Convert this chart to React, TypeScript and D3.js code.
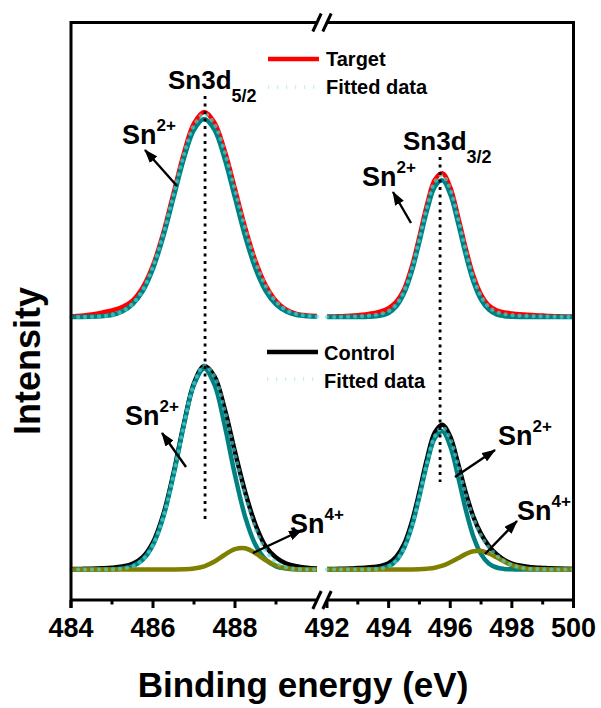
import React from 'react';
import * as d3 from 'd3';

// ---------- data (binding energy in eV, intensity in arbitrary units) ----------
const ENERGY_LEFT = [484, 484.25, 484.5, 484.75, 485, 485.25, 485.5, 485.75, 486, 486.25, 486.5, 486.75, 487, 487.25, 487.5, 487.75, 488, 488.25, 488.5, 488.75, 489, 489.25, 489.5, 489.75, 490];
const ENERGY_RIGHT = [492, 492.25, 492.5, 492.75, 493, 493.25, 493.5, 493.75, 494, 494.25, 494.5, 494.75, 495, 495.25, 495.5, 495.75, 496, 496.25, 496.5, 496.75, 497, 497.25, 497.5, 497.75, 498, 498.25, 498.5, 498.75, 499, 499.25, 499.5, 499.75, 500];

// Top panel: Target
const TARGET_LEFT = [0.3, 0.6, 1.3, 2.2, 3.3, 5.0, 8.2, 14.8, 25.8, 42.0, 61.8, 81.6, 96.8, 102.5, 97.2, 83.0, 64.0, 44.6, 28.0, 15.8, 8.0, 3.6, 1.6, 0.8, 0.5];
const TARGET_RIGHT = [0.2, 0.3, 0.4, 0.6, 0.9, 1.3, 1.9, 2.8, 4.4, 7.6, 13.8, 25.0, 40.2, 56.4, 68.6, 71.8, 64.8, 50.4, 34.4, 20.6, 11.2, 5.8, 3.4, 2.3, 1.8, 1.4, 1.1, 0.9, 0.7, 0.5, 0.4, 0.3, 0.2];
const FIT_TOP_LEFT = [0, 0, 0.1, 0.4, 1.0, 2.8, 6.6, 13.6, 25.2, 41.5, 61.2, 81.0, 95.8, 101.5, 96.4, 82.4, 63.5, 44.2, 27.6, 15.5, 7.8, 3.5, 1.5, 0.6, 0.2];
const FIT_TOP_RIGHT = [0, 0, 0.1, 0.2, 0.3, 0.5, 0.9, 1.6, 3.0, 6.3, 12.9, 24.0, 39.2, 55.4, 67.6, 70.8, 63.9, 49.6, 33.6, 19.8, 10.4, 5.0, 2.6, 1.5, 1.0, 0.7, 0.5, 0.4, 0.3, 0.2, 0.1, 0.1, 0];
const SN2_TOP_LEFT = [0, 0, 0.1, 0.4, 1.0, 2.7, 6.3, 13.0, 24.2, 40.2, 59.6, 79.0, 93.6, 99, 93.6, 79.0, 59.6, 40.2, 24.2, 13.0, 6.3, 2.7, 1.0, 0.4, 0.1];
const SN2_TOP_RIGHT = [0, 0, 0, 0, 0, 0.05, 0.2, 0.7, 2.0, 5.3, 11.8, 22.7, 37.7, 53.5, 65.2, 68.3, 61.4, 47.3, 31.4, 17.8, 8.7, 3.7, 1.3, 0.4, 0.1, 0, 0, 0, 0, 0, 0, 0, 0];

// Bottom panel: Control
const CONTROL_LEFT = [0.2, 0.3, 0.4, 0.6, 0.9, 1.5, 2.8, 6.2, 13.6, 27.4, 48.2, 72.6, 93.2, 101.8, 96.6, 80.2, 58.8, 38.6, 22.4, 11.5, 6.0, 3.0, 1.6, 0.9, 0.5];
const CONTROL_RIGHT = [0.3, 0.3, 0.4, 0.5, 0.7, 0.9, 1.2, 1.8, 3.2, 6.4, 12.6, 23.6, 38.8, 55.6, 68.6, 72.4, 66.4, 53.2, 38.6, 26.4, 17.8, 11.8, 7.6, 4.8, 3.0, 2.0, 1.4, 1.0, 0.8, 0.6, 0.5, 0.4, 0.3];
const FIT_BOTTOM_LEFT = [0, 0, 0, 0, 0.1, 0.5, 1.6, 4.9, 12.3, 26.2, 47.2, 72.0, 92.9, 102.1, 96.4, 79.3, 57.4, 36.8, 20.4, 9.5, 3.6, 1.1, 0.2, 0, 0];
const FIT_BOTTOM_RIGHT = [0, 0, 0, 0, 0, 0, 0.1, 0.5, 1.6, 4.5, 10.7, 21.4, 36.8, 53.6, 66.7, 71.0, 65.3, 52.4, 37.8, 25.6, 16.9, 11.0, 7.1, 4.3, 2.3, 1.1, 0.4, 0.2, 0.1, 0, 0, 0, 0];
const SN2_BOTTOM_LEFT = [0, 0, 0, 0, 0.1, 0.5, 1.6, 4.9, 12.3, 26.2, 47.2, 71.9, 92.4, 100.5, 92.4, 71.9, 47.2, 26.2, 12.3, 4.9, 1.6, 0.5, 0.1, 0, 0];
const SN2_BOTTOM_RIGHT = [0, 0, 0, 0, 0, 0, 0.1, 0.5, 1.6, 4.5, 10.7, 21.4, 36.7, 53.2, 65.8, 69.1, 61.7, 46.8, 30.1, 16.5, 7.7, 3.0, 1.0, 0.3, 0.1, 0, 0, 0, 0, 0, 0, 0, 0];
const SN4_BOTTOM_LEFT = [0, 0, 0, 0, 0, 0, 0, 0, 0, 0, 0, 0.1, 0.5, 1.6, 4.0, 7.4, 10.2, 10.6, 8.1, 4.6, 2.0, 0.6, 0.1, 0, 0];
const SN4_BOTTOM_RIGHT = [0, 0, 0, 0, 0, 0, 0, 0, 0, 0, 0, 0, 0.1, 0.4, 0.9, 1.9, 3.6, 5.6, 7.7, 9.1, 9.2, 8.0, 6.1, 4.0, 2.2, 1.1, 0.4, 0.2, 0.1, 0, 0, 0, 0];

// peak centres marked with dotted lines
const PEAK_POSITIONS = [487.27, 495.67];

// axis ticks
const MAJOR_TICKS_LEFT = [484, 486, 488];
const MINOR_TICKS_LEFT = [485, 487, 489];
const MAJOR_TICKS_RIGHT = [492, 494, 496, 498, 500];
const MINOR_TICKS_RIGHT = [493, 495, 497, 499];

const FONT = "'Liberation Sans', Arial, Helvetica, sans-serif";
const RED = '#ff0000';
const TEAL = '#008080';
const OLIVE = '#808000';
const DOTS = 'rgba(80,220,220,0.62)';

export default function App() {
  const X0 = 71, XBL = 317, XBR = 327, X1 = 573.5;
  const YT = 22.5, YB = 600;
  const TOP_OFFSET = 141.5;
  const BOTTOM_OFFSET = 15.25;

  const xL = d3.scaleLinear().domain([484, 490]).range([X0, XBL]);
  const xR = d3.scaleLinear().domain([492, 500]).range([XBR, X1]);
  const y = d3.scaleLinear().domain([0, 288.75]).range([YB, YT]);

  const path = (xs: d3.ScaleLinear<number, number>, en: number[], vals: number[], off: number) =>
    d3
      .line<number>()
      .x((_, i) => xs(en[i]))
      .y((v) => y(v + off))
      .curve(d3.curveCatmullRom.alpha(0.5))(vals) || '';

  const both = (l: number[], r: number[], off: number) => [
    path(xL, ENERGY_LEFT, l, off),
    path(xR, ENERGY_RIGHT, r, off),
  ];

  const series = (l: number[], r: number[], off: number, props: any, key: string) =>
    both(l, r, off).map((d, i) => <path key={key + i} d={d} fill="none" {...props} />);

  const solid = (c: string) => ({ stroke: c, strokeWidth: 4.5, strokeLinejoin: 'round', strokeLinecap: 'butt' });
  const dotted = { stroke: DOTS, strokeWidth: 4.2, strokeDasharray: '0.01 7', strokeLinecap: 'round' };

  const axisW = 3;
  const slash = (cx: number, cy: number, k: string) => (
    <line key={k} x1={cx - 4.2} y1={cy + 9} x2={cx + 4.2} y2={cy - 9} stroke="#000" strokeWidth={axisW} />
  );

  const arrow = (x1: number, y1: number, x2: number, y2: number, k: string) => (
    <line key={k} x1={x1} y1={y1} x2={x2} y2={y2} stroke="#000" strokeWidth={2.4} markerEnd="url(#ah)" />
  );

  const snLabel = (x: number, yb: number, sup: string, k: string) => (
    <text key={k} x={x} y={yb} fontFamily={FONT} fontWeight="bold" fontSize={27} fill="#000">
      Sn
      <tspan fontSize={17} dy={-13}>{sup}</tspan>
    </text>
  );

  const peakX = [xL(PEAK_POSITIONS[0]), xR(PEAK_POSITIONS[1])];

  return (
    <svg width={601} height={708} style={{ position: 'absolute', left: 0, top: 0, background: '#fff' }}>
      <defs>
        <marker id="ah" markerUnits="userSpaceOnUse" markerWidth={14} markerHeight={10} refX={13} refY={5} orient="auto">
          <path d="M0,0 L14,5 L0,10 Z" fill="#000" />
        </marker>
      </defs>
      <rect x={0} y={0} width={601} height={708} fill="#fff" />

      {/* top panel */}
      {series(TARGET_LEFT, TARGET_RIGHT, TOP_OFFSET, solid(RED), 'tg')}
      {series(SN2_TOP_LEFT, SN2_TOP_RIGHT, TOP_OFFSET, solid(TEAL), 's2t')}
      {series(FIT_TOP_LEFT, FIT_TOP_RIGHT, TOP_OFFSET, dotted, 'ft')}

      {/* bottom panel */}
      {series(CONTROL_LEFT, CONTROL_RIGHT, BOTTOM_OFFSET, solid('#000'), 'ct')}
      {series(SN2_BOTTOM_LEFT, SN2_BOTTOM_RIGHT, BOTTOM_OFFSET, solid(TEAL), 's2b')}
      {series(SN4_BOTTOM_LEFT, SN4_BOTTOM_RIGHT, BOTTOM_OFFSET, solid(OLIVE), 's4b')}
      {series(FIT_BOTTOM_LEFT, FIT_BOTTOM_RIGHT, BOTTOM_OFFSET, dotted, 'fb')}

      {/* peak marker lines */}
      <line x1={peakX[0]} x2={peakX[0]} y1={96} y2={520} stroke="#000" strokeWidth={2.8} strokeDasharray="3 4.5" />
      <line x1={peakX[1]} x2={peakX[1]} y1={157} y2={482} stroke="#000" strokeWidth={2.8} strokeDasharray="3 4.5" />

      {/* frame */}
      <line x1={X0} x2={X0} y1={YT - 1.5} y2={YB + 8} stroke="#000" strokeWidth={axisW} />
      <line x1={X1} x2={X1} y1={YT - 1.5} y2={YB + 8} stroke="#000" strokeWidth={axisW} />
      <line x1={X0} x2={XBL} y1={YT} y2={YT} stroke="#000" strokeWidth={axisW} />
      <line x1={XBR} x2={X1} y1={YT} y2={YT} stroke="#000" strokeWidth={axisW} />
      <line x1={X0} x2={XBL} y1={YB} y2={YB} stroke="#000" strokeWidth={axisW} />
      <line x1={XBR} x2={X1} y1={YB} y2={YB} stroke="#000" strokeWidth={axisW} />
      {slash(XBL, YT, 'st1')}
      {slash(XBR, YT, 'st2')}
      {slash(XBL, YB, 'sb1')}
      {slash(XBR, YB, 'sb2')}

      {/* ticks */}
      {MAJOR_TICKS_LEFT.map((t) => (
        <line key={'ml' + t} x1={xL(t)} x2={xL(t)} y1={YB} y2={YB + 8} stroke="#000" strokeWidth={axisW} />
      ))}
      {MAJOR_TICKS_RIGHT.map((t) => (
        <line key={'mr' + t} x1={xR(t)} x2={xR(t)} y1={YB} y2={YB + 8} stroke="#000" strokeWidth={axisW} />
      ))}
      {MINOR_TICKS_LEFT.map((t) => (
        <line key={'nl' + t} x1={xL(t)} x2={xL(t)} y1={YB} y2={YB + 4.5} stroke="#000" strokeWidth={axisW} />
      ))}
      {MINOR_TICKS_RIGHT.map((t) => (
        <line key={'nr' + t} x1={xR(t)} x2={xR(t)} y1={YB} y2={YB + 4.5} stroke="#000" strokeWidth={axisW} />
      ))}
      {MAJOR_TICKS_LEFT.map((t) => (
        <text key={'tl' + t} x={xL(t)} y={637} textAnchor="middle" fontFamily={FONT} fontWeight="bold" fontSize={27}>
          {t}
        </text>
      ))}
      {MAJOR_TICKS_RIGHT.map((t) => (
        <text key={'tr' + t} x={xR(t)} y={637} textAnchor="middle" fontFamily={FONT} fontWeight="bold" fontSize={27}>
          {t}
        </text>
      ))}

      {/* axis titles */}
      <text x={303} y={697} textAnchor="middle" fontFamily={FONT} fontWeight="bold" fontSize={35}>
        Binding energy (eV)
      </text>
      <text transform="translate(40,361) rotate(-90)" textAnchor="middle" fontFamily={FONT} fontWeight="bold" fontSize={36}>
        Intensity
      </text>

      {/* legends */}
      <line x1={268} x2={319} y1={59} y2={59} stroke={RED} strokeWidth={4.5} />
      <text x={326} y={66} fontFamily={FONT} fontWeight="bold" fontSize={20}>Target</text>
      <line x1={268} x2={319} y1={87} y2={87} stroke="rgba(150,235,235,0.6)" strokeWidth={4} strokeDasharray="1.2 7.8" />
      <text x={326} y={94} fontFamily={FONT} fontWeight="bold" fontSize={20}>Fitted data</text>

      <line x1={267} x2={318} y1={352} y2={352} stroke="#000" strokeWidth={4.5} />
      <text x={324} y={360} fontFamily={FONT} fontWeight="bold" fontSize={20}>Control</text>
      <line x1={267} x2={318} y1={379} y2={379} stroke="rgba(150,235,235,0.6)" strokeWidth={4} strokeDasharray="1.2 7.8" />
      <text x={324} y={388} fontFamily={FONT} fontWeight="bold" fontSize={20}>Fitted data</text>

      {/* peak labels */}
      <text x={168} y={89} fontFamily={FONT} fontWeight="bold" fontSize={26}>
        Sn3d<tspan fontSize={18} dy={13}>5/2</tspan>
      </text>
      <text x={403} y={150} fontFamily={FONT} fontWeight="bold" fontSize={26}>
        Sn3d<tspan fontSize={18} dy={13}>3/2</tspan>
      </text>

      {snLabel(122, 144, '2+', 'l1')}
      {snLabel(362, 186, '2+', 'l2')}
      {snLabel(125, 425, '2+', 'l3')}
      {snLabel(290, 533, '4+', 'l4')}
      {snLabel(498, 445, '2+', 'l5')}
      {snLabel(517, 520, '4+', 'l6')}

      {arrow(177, 186, 145, 150, 'a1')}
      {arrow(411, 223, 393, 192, 'a2')}
      {arrow(186, 467, 162, 433, 'a3')}
      {arrow(253, 553, 302, 530, 'a4')}
      {arrow(455, 477, 495, 450, 'a5')}
      {arrow(485, 554, 517, 521, 'a6')}
    </svg>
  );
}
